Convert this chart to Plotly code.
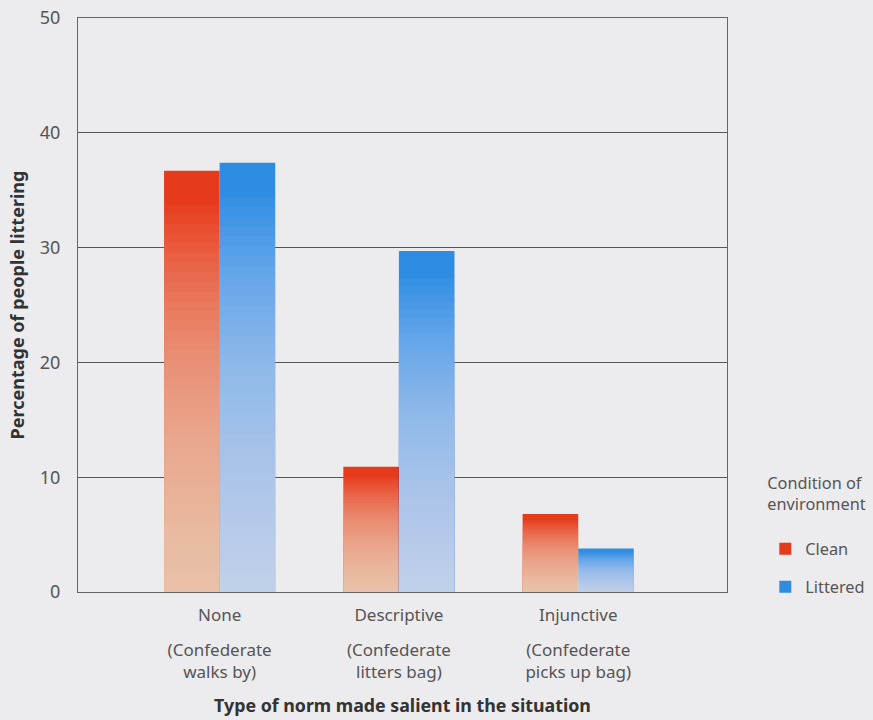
import plotly.graph_objects as go

categories = ["None", "Descriptive", "Injunctive"]
descriptions = ["(Confederate<br>walks by)", "(Confederate<br>litters bag)", "(Confederate<br>picks up bag)"]
series_names = ["Clean", "Littered"]
clean = [36.7, 10.9, 6.8]
littered = [37.4, 29.7, 3.8]
y_ticks = [0, 10, 20, 30, 40, 50]

BG = "#ecebed"
FONT = "Noto Sans"
TXT = "#555555"
top_colors = ["#e63a1c", "#2e8de2"]
fade_colors = ["rgba(250,225,210,0.045)", "rgba(230,232,250,0.045)"]
offsets = [-0.31, 0.0]
BW = 0.31
N = 40

fig = go.Figure()
values = [clean, littered]
for i, name in enumerate(series_names):
    fig.add_trace(go.Bar(
        x=categories, y=values[i], name=name,
        marker=dict(color=top_colors[i], line=dict(width=0)),
        offset=offsets[i], width=BW, legendgroup=name,
    ))
# vertical gradient: translucent overlays covering decreasing fractions of each bar
for i, name in enumerate(series_names):
    for k in range(1, N + 1):
        frac = 0.92 * k / N
        fig.add_trace(go.Bar(
            x=categories, y=[v * frac for v in values[i]],
            xaxis="x2",
            marker=dict(color=fade_colors[i], line=dict(width=0)),
            offset=offsets[i], width=BW, showlegend=False,
            hoverinfo="skip", legendgroup=name,
        ))

fig.update_layout(
    width=873, height=720,
    margin=dict(l=78, r=146, t=18, b=128, autoexpand=False),
    paper_bgcolor=BG, plot_bgcolor=BG,
    barmode="overlay",
    font=dict(family=FONT, size=16, color=TXT),
    showlegend=True,
    legend=dict(
        title=dict(text="Condition of<br>environment<br> ", font=dict(size=16.3, color=TXT)),
        x=1.059, xanchor="left", y=0.216, yanchor="top",
        bgcolor="rgba(0,0,0,0)", font=dict(size=16.3, color=TXT),
        tracegroupgap=14, traceorder="grouped",
    ),
    xaxis=dict(
        type="category", range=[-0.79, 2.83], automargin=False,
        categoryorder="array", categoryarray=categories,
        showline=True, linecolor="#666666", linewidth=1, mirror=True,
        showgrid=False, ticks="", ticklabelstandoff=8,
        tickfont=dict(size=17, color=TXT),
        title=dict(text="<b>Type of norm made salient in the situation</b>",
                   font=dict(size=17.8, color="#333333"), standoff=74),
    ),
    xaxis2=dict(
        type="category", overlaying="x", side="bottom", anchor="y",
        range=[-0.79, 2.83], categoryorder="array", categoryarray=categories,
        automargin=False,
        tickmode="array", tickvals=categories, ticktext=descriptions,
        showline=False, showgrid=False, zeroline=False, ticks="",
        ticklabelstandoff=46, tickfont=dict(size=17, color=TXT),
    ),
    yaxis=dict(
        range=[0, 50], tickvals=y_ticks, automargin=False,
        showline=True, linecolor="#666666", linewidth=1, mirror=True,
        showgrid=True, gridcolor="#555555", gridwidth=1, zeroline=False,
        ticks="", ticklabelstandoff=13, tickfont=dict(size=18, color=TXT),
        title=dict(text="<b>Percentage of people littering</b>",
                   font=dict(size=18, color="#333333"), standoff=10),
    ),
)
fig.write_html(
    "out.html",
    config={"displayModeBar": False},
    post_script="document.body.style.margin='0';document.body.style.background='#ecebed';",
)
